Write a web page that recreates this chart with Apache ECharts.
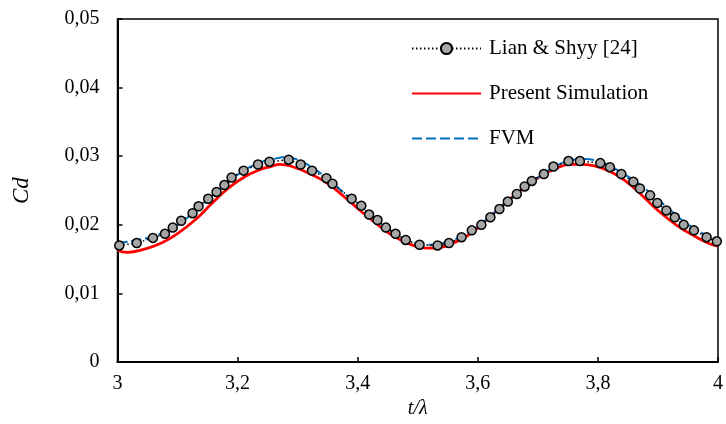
<!DOCTYPE html>
<html>
<head>
<meta charset="utf-8">
<script src="https://cdn.jsdelivr.net/npm/echarts@6/dist/echarts.min.js"></script>
<style>
  html, body { margin: 0; padding: 0; background: #fff; }
  #chart { width: 726px; height: 424px; }
</style>
</head>
<body>
<div id="chart"></div>
<script>
// Lian & Shyy [24] (markers)
const lianT = [3.003, 3.032, 3.059, 3.079, 3.092, 3.106, 3.125, 3.135, 3.151, 3.165, 3.178, 3.190, 3.210, 3.234, 3.253,
  3.285, 3.305, 3.324, 3.348, 3.358, 3.390, 3.406, 3.419, 3.433, 3.447, 3.463, 3.480, 3.503,
  3.533, 3.552, 3.573, 3.590, 3.606, 3.621, 3.636, 3.650, 3.665, 3.678, 3.690, 3.710, 3.726, 3.751, 3.770,
  3.804, 3.820, 3.839, 3.859, 3.870, 3.887, 3.899, 3.914, 3.928, 3.943, 3.960, 3.981, 3.998];
const lianCd = [0.0170, 0.01735, 0.0181, 0.0187, 0.0196, 0.0206, 0.0217, 0.0227, 0.0238, 0.0248, 0.0258, 0.0269, 0.0279, 0.0288, 0.0292,
  0.0295, 0.0288, 0.0279, 0.0268, 0.0260, 0.0238, 0.0228, 0.0215, 0.0207, 0.0196, 0.0187, 0.0178, 0.0171,
  0.0170, 0.01735, 0.0182, 0.0192, 0.0200, 0.0211, 0.0223, 0.0234, 0.0245, 0.0256, 0.0264, 0.0274, 0.0285, 0.0293, 0.0293,
  0.0290, 0.0284, 0.0274, 0.0263, 0.0253, 0.0243, 0.0232, 0.0221, 0.0211, 0.0200, 0.0192, 0.0182, 0.0176];

// Present Simulation (red)
const simT = [3.000, 3.016, 3.046, 3.074, 3.101, 3.129, 3.157, 3.184, 3.212, 3.239, 3.255, 3.270, 3.294, 3.321, 3.349,
  3.376, 3.404, 3.432, 3.459, 3.487, 3.515, 3.536, 3.563, 3.591, 3.618, 3.646, 3.674, 3.701, 3.729, 3.756, 3.770,
  3.794, 3.822, 3.849, 3.877, 3.904, 3.932, 3.960, 3.987, 4.000];
const simCd = [0.0163, 0.0160, 0.0165, 0.0174, 0.0188, 0.0207, 0.0231, 0.0253, 0.0270, 0.0281, 0.0285, 0.0288, 0.0284, 0.0274, 0.0261,
  0.0242, 0.0221, 0.0201, 0.0184, 0.0172, 0.0166, 0.0167, 0.0175, 0.0189, 0.0210, 0.0232, 0.0252, 0.0269, 0.0282, 0.0288, 0.0288,
  0.0286, 0.0277, 0.0262, 0.0240, 0.0218, 0.0199, 0.0184, 0.0172, 0.0169];

// FVM (blue dashed)
const fvmT = [3.00, 3.02, 3.04, 3.06, 3.08, 3.10, 3.12, 3.14, 3.16, 3.18, 3.20, 3.22, 3.24, 3.26, 3.28, 3.30, 3.32, 3.34,
  3.36, 3.38, 3.40, 3.42, 3.44, 3.46, 3.48, 3.50, 3.52, 3.54, 3.56, 3.58, 3.60, 3.62, 3.64, 3.66, 3.68, 3.70, 3.72,
  3.74, 3.76, 3.78, 3.80, 3.82, 3.84, 3.86, 3.88, 3.90, 3.92, 3.94, 3.96, 3.98, 4.00];
const fvmCd = [0.0173, 0.0176, 0.0179, 0.0183, 0.0190, 0.0200, 0.0213, 0.0228, 0.0244, 0.0259, 0.0273, 0.0284, 0.0292, 0.0296, 0.0299, 0.0295, 0.0286, 0.0274,
  0.0260, 0.0244, 0.0230, 0.0216, 0.0201, 0.0189, 0.0179, 0.0173, 0.0171, 0.0173, 0.0178, 0.0187, 0.0198, 0.0212, 0.0227, 0.0241, 0.0256, 0.0269, 0.0281,
  0.0290, 0.0295, 0.0296, 0.0293, 0.0286, 0.0276, 0.0265, 0.0252, 0.0237, 0.0222, 0.0207, 0.0195, 0.0185, 0.0177];

const xTicks = [3, 3.2, 3.4, 3.6, 3.8, 4];
const yTicks = [0, 0.01, 0.02, 0.03, 0.04, 0.05];

const FONT = '"Liberation Serif", "Times New Roman", serif';
const comma = v => String(+v.toFixed(2)).replace('.', ',');
const pairs = (xs, ys) => xs.map((x, i) => [x, ys[i]]);

const chart = echarts.init(document.getElementById('chart'));

chart.setOption({
  animation: false,
  backgroundColor: '#fff',
  grid: {
    left: 117.5, right: 5, top: 19, bottom: 60,
    show: true, borderColor: '#000', borderWidth: 1.5
  },
  legend: {
    orient: 'vertical',
    left: 411, top: 38, padding: 0,
    itemWidth: 69, itemHeight: 14, itemGap: 24,
    textStyle: { fontFamily: FONT, fontSize: 21, color: '#000', padding: [0, 0, 0, 3] },
    data: [
      { name: 'Lian & Shyy [24]' },
      { name: 'Present Simulation', itemStyle: { opacity: 0 } },
      { name: 'FVM', itemStyle: { opacity: 0 } }
    ]
  },
  xAxis: {
    type: 'value',
    min: 3, max: 4, interval: 0.2,
    name: 't/λ', nameLocation: 'middle', nameGap: 32,
    nameTextStyle: { fontFamily: FONT, fontSize: 20, fontStyle: 'italic', color: '#000' },
    axisLine: { lineStyle: { color: '#000', width: 2 } },
    axisTick: { inside: true, length: 5, lineStyle: { color: '#000', width: 1.5 } },
    axisLabel: { fontFamily: FONT, fontSize: 20, color: '#000', margin: 12, formatter: comma,
      customValues: xTicks },
    splitLine: { show: false }
  },
  yAxis: {
    type: 'value',
    min: 0, max: 0.05, interval: 0.01,
    name: 'Cd', nameLocation: 'middle', nameGap: 84, nameRotate: 90,
    nameTextStyle: { fontFamily: FONT, fontSize: 23, fontStyle: 'italic', color: '#000' },
    axisLine: { lineStyle: { color: '#000', width: 2 } },
    axisTick: { inside: true, length: 5, lineStyle: { color: '#000', width: 1.5 } },
    axisLabel: { fontFamily: FONT, fontSize: 20, color: '#000', margin: 18, formatter: comma,
      customValues: yTicks },
    splitLine: { show: false }
  },
  series: [
    {
      name: 'Present Simulation',
      type: 'line',
      data: pairs(simT, simCd),
      smooth: 0.5,
      symbol: 'none',
      lineStyle: { color: '#ff0000', width: 2.8 },
      itemStyle: { color: '#ff0000' },
      z: 2
    },
    {
      name: 'FVM',
      type: 'line',
      data: pairs(fvmT, fvmCd),
      smooth: 0.3,
      symbol: 'none',
      lineStyle: { color: '#0070c0', width: 2, type: [10, 4] },
      itemStyle: { color: '#0070c0' },
      z: 3
    },
    {
      name: 'Lian & Shyy [24]',
      type: 'line',
      data: pairs(lianT, lianCd),
      symbol: 'circle',
      symbolSize: 9,
      lineStyle: { color: '#000', width: 1.5, type: [1.5, 2.5] },
      itemStyle: { color: '#a6a6a6', borderColor: '#000', borderWidth: 1.5 },
      z: 4
    }
  ]
});
</script>
</body>
</html>
